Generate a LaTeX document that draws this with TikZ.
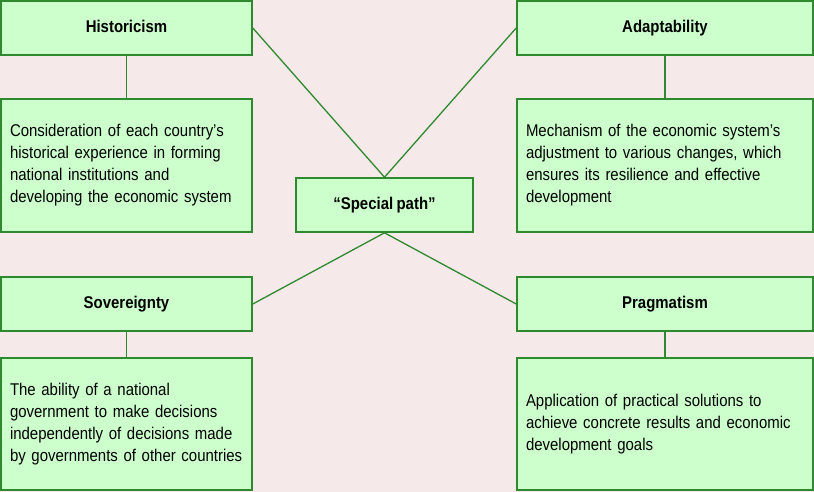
\documentclass[tikz,border=0pt]{standalone}
\usepackage{fontspec}
\setmainfont{Liberation Sans}[FakeStretch=0.88,WordSpace=0.8]
\usepackage{tikz}
\hyphenpenalty=10000
\definecolor{bgpink}{HTML}{F6E9E9}
\definecolor{boxgreen}{HTML}{CCFFCC}
\definecolor{linegreen}{HTML}{2F8A2F}
\tikzset{
  headbox/.style={draw=linegreen,fill=boxgreen,line width=1.6pt,minimum height=54pt,
    inner sep=0pt,text height=12.5pt,text depth=3.5pt,font=\fontsize{17}{22}\selectfont\bfseries},
  textbox/.style={draw=linegreen,fill=boxgreen,line width=1.6pt,align=left,inner xsep=9pt,
    inner ysep=0pt,font=\fontsize{17}{22}\selectfont},
  link/.style={draw=linegreen,line width=1.3pt}
}
\begin{document}
\begin{tikzpicture}[x=1pt,y=-1pt]
  % background
  \fill[bgpink] (0,0) rectangle (814,492);
  \useasboundingbox (0,0) rectangle (814,492);
  % centre
  \node[headbox,minimum width=177pt] (special) at (384.5,205) {“Special path”};
  % left column
  \node[headbox,minimum width=251pt] (hist) at (126.5,28) {Historicism};
  \node[textbox,text width=233pt,minimum height=133pt] (histtext) at (126.5,165.5)
    {Consideration of each country's\\historical experience in forming\\national institutions and\\developing the economic system};
  \node[headbox,minimum width=251pt] (sov) at (126.5,304) {Sovereignty};
  \node[textbox,text width=233pt,minimum height=132pt] (sovtext) at (126.5,424)
    {The ability of a national\\government to make decisions\\independently of decisions made\\by governments of other countries};
  % right column
  \node[headbox,minimum width=296pt] (adapt) at (665,28) {Adaptability};
  \node[textbox,text width=278pt,minimum height=133pt] (adapttext) at (665,165.5)
    {Mechanism of the economic system’s\\adjustment to various changes, which\\ensures its resilience and effective\\development};
  \node[headbox,minimum width=296pt] (prag) at (665,304) {Pragmatism};
  \node[textbox,text width=278pt,minimum height=132pt] (pragtext) at (665,424)
    {Application of practical solutions to\\achieve concrete results and economic\\development goals};
  % connectors
  \draw[link] (hist.south) -- (histtext.north);
  \draw[link] (sov.south) -- (sovtext.north);
  \draw[link] (adapt.south) -- (adapttext.north);
  \draw[link] (prag.south) -- (pragtext.north);
  \draw[link] (hist.east) -- (special.north);
  \draw[link] (adapt.west) -- (special.north);
  \draw[link] (special.south) -- (sov.east);
  \draw[link] (special.south) -- (prag.west);
\end{tikzpicture}
\end{document}
